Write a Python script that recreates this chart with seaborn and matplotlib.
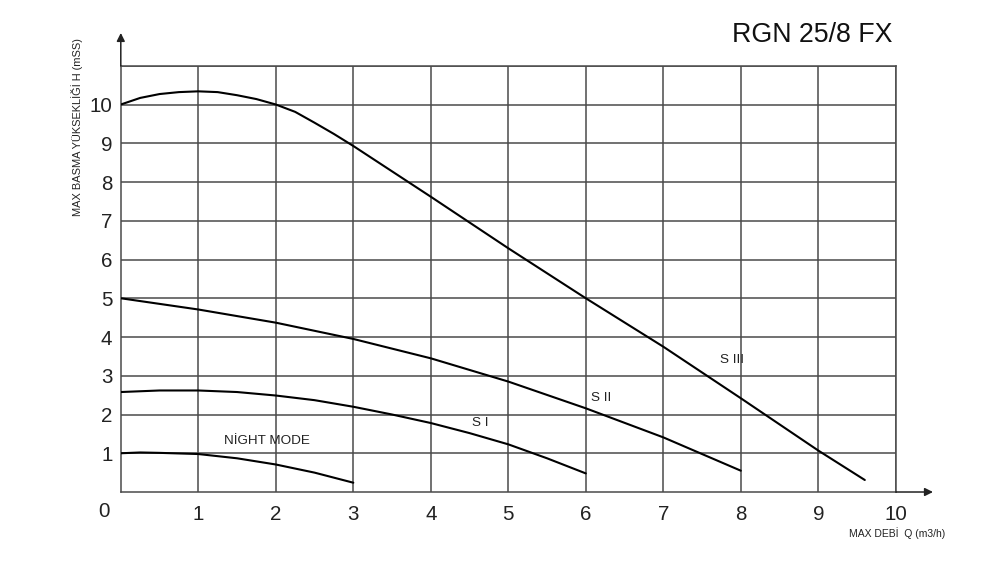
import matplotlib
matplotlib.use("Agg")
import matplotlib.pyplot as plt
import seaborn as sns
import pandas as pd

# ---- data ----
s3_q = [0, 0.25, 0.5, 0.75, 1.0, 1.25, 1.5, 1.75, 2.0, 2.25, 2.5, 2.75, 3.0, 4.0, 5.0, 6.0, 7.0, 8.0, 9.0, 9.6]
s3_h = [10.0, 10.17, 10.27, 10.32, 10.34, 10.32, 10.24, 10.14, 10.0, 9.81, 9.53, 9.24, 8.93, 7.62, 6.29, 5.0, 3.75, 2.42, 1.07, 0.31]

s2_q = [0, 1, 2, 3, 4, 5, 6, 7, 8]
s2_h = [5.0, 4.71, 4.37, 3.95, 3.45, 2.85, 2.16, 1.41, 0.55]

s1_q = [0, 0.5, 1, 1.5, 2, 2.5, 3, 3.5, 4, 4.5, 5, 5.5, 6]
s1_h = [2.58, 2.62, 2.62, 2.58, 2.49, 2.37, 2.2, 2.0, 1.78, 1.52, 1.23, 0.87, 0.48]

nm_q = [0, 0.25, 0.5, 1.0, 1.5, 2.0, 2.5, 3.0]
nm_h = [1.0, 1.02, 1.01, 0.98, 0.87, 0.71, 0.5, 0.24]

x_ticks = [1, 2, 3, 4, 5, 6, 7, 8, 9, 10]
y_ticks = [1, 2, 3, 4, 5, 6, 7, 8, 9, 10]

curve_labels = ["NİGHT MODE", "S I", "S II", "S III"]
label_q = [1.88, 4.64, 6.2, 7.88]
label_h = [1.32, 1.78, 2.43, 3.4]

title = "RGN 25/8 FX"
ylabel = "MAX BASMA YÜKSEKLİĞİ H (mSS)"
xlabel = "MAX DEBİ  Q (m3/h)"

# ---- style ----
sns.set_style("white")
plt.rcParams['font.family'] = ['Liberation Sans', 'DejaVu Sans']

fig = plt.figure(figsize=(10, 5.63), dpi=100)
ax = fig.add_axes([0.1208, 0.1261, 0.775, 0.7571])

grid_c = "#4a4a4a"
for q, h in [(s3_q, s3_h), (s2_q, s2_h), (s1_q, s1_h), (nm_q, nm_h)]:
    df = pd.DataFrame({"Q": q, "H": h})
    sns.lineplot(data=df, x="Q", y="H", ax=ax, color="black", linewidth=1.5,
                 sort=False, estimator=None, zorder=3)

ax.set_xlim(0, 10)
ax.set_ylim(0, 11)
ax.set_xticks(x_ticks)
ax.set_yticks(y_ticks + [11])
ax.set_yticklabels([str(t) for t in y_ticks] + [""])
ax.set_xticklabels([str(t) for t in x_ticks])
ax.grid(True, color=grid_c, linewidth=1.1)
ax.tick_params(axis="x", length=0, pad=9, labelsize=14.8, colors="#222222")
ax.tick_params(axis="y", length=3, width=1.1, color=grid_c, pad=3, labelsize=14.8, labelcolor="#222222")
for s in ax.spines.values():
    s.set_color(grid_c)
    s.set_linewidth(1.1)
ax.set_xlabel("")
ax.set_ylabel("")

# origin label
ax.text(-0.22, -0.5, "0", ha="center", va="center", fontsize=14.8, color="#222222",
        transform=ax.transData, clip_on=False)

# axis arrows
ax.annotate("", xy=(0, 1.077), xytext=(0, 1.0), xycoords="axes fraction",
            arrowprops=dict(arrowstyle="-|>", color="#222222", lw=1.1,
                            mutation_scale=12, shrinkA=0, shrinkB=0),
            annotation_clip=False)
ax.annotate("", xy=(1.048, 0), xytext=(1.0, 0), xycoords="axes fraction",
            arrowprops=dict(arrowstyle="-|>", color="#222222", lw=1.1,
                            mutation_scale=12, shrinkA=0, shrinkB=0),
            annotation_clip=False)

for t, q, h in zip(curve_labels, label_q, label_h):
    ax.text(q, h, t, ha="center", va="center", fontsize=9.7, color="#222222", zorder=4)

fig.text(0.892, 0.938, title, ha="right", va="center", fontsize=19.3, color="#111111")
fig.text(0.077, 0.775, ylabel, rotation=90, ha="center", va="center", fontsize=7.9, color="#222222")
fig.text(0.945, 0.0533, xlabel, ha="right", va="center", fontsize=7.5, color="#222222")

fig.savefig("out.png", dpi=100, facecolor="white")
